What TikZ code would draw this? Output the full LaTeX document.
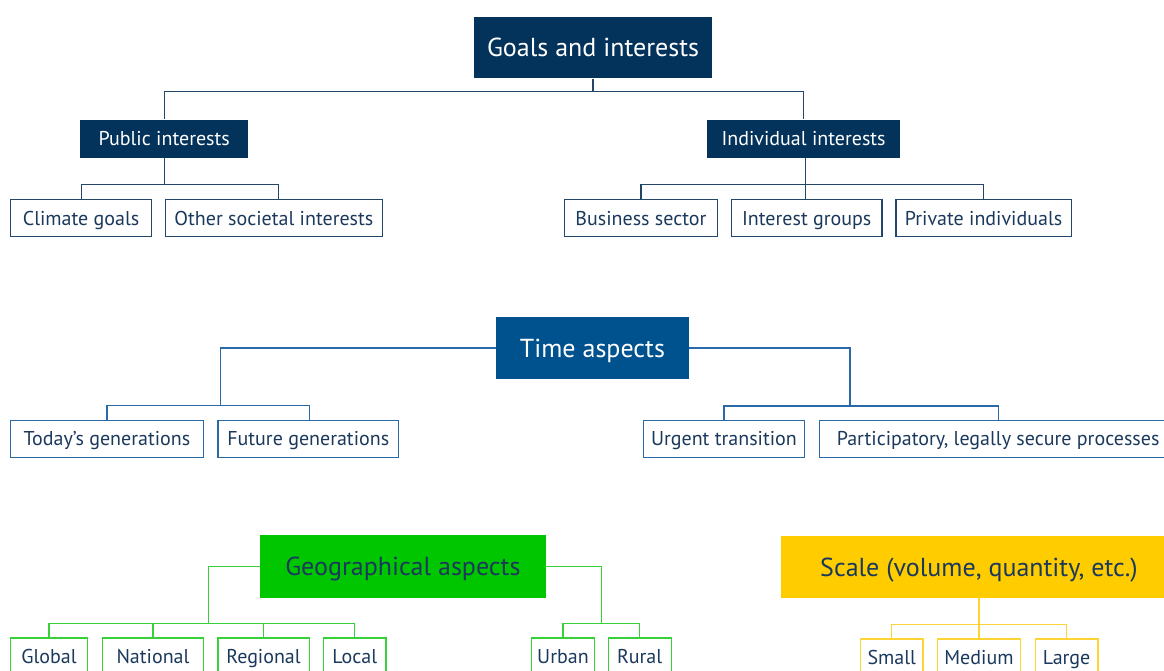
\documentclass[tikz,border=0pt]{standalone}
\usepackage{fontspec}
\setmainfont{PT Sans}
\definecolor{navyfill}{HTML}{03325A}
\definecolor{timefill}{HTML}{00528F}
\definecolor{geofill}{HTML}{00C600}
\definecolor{scalefill}{HTML}{FFCC00}
\definecolor{navyline}{HTML}{24466B}
\definecolor{blueline}{HTML}{2A69A8}
\definecolor{greenline}{HTML}{38D038}
\definecolor{yellowline}{HTML}{FFD333}
\definecolor{labelnavy}{HTML}{1B395C}
\begin{document}
\begin{tikzpicture}[x=1pt,y=-1pt,
  leaf/.style={draw, line width=1.2pt, fill=white, inner sep=0pt, anchor=north west,
    minimum height=37pt, text=labelnavy, font=\fontsize{20}{22}\selectfont,
    text height=14pt, text depth=0pt},
  sub/.style={inner sep=0pt, anchor=north west, minimum height=38pt,
    fill=navyfill, text=white, font=\fontsize{20}{22}\selectfont,
    text height=14pt, text depth=0pt},
  head/.style={inner sep=0pt, anchor=north west, font=\fontsize{26}{28}\selectfont,
    text height=18.2pt, text depth=0pt},
  link/.style={line width=1.2pt}]
\useasboundingbox (0,0) rectangle (1164,671);
\clip (0,0) rectangle (1164,671);

% ---------- Goals and interests ----------
\node[head, fill=navyfill, text=white, minimum width=237.7pt, minimum height=61.3pt]
  (goals) at (474,17) {Goals and interests};
\node[sub, minimum width=168pt] (pub) at (80,119.5) {Public interests};
\node[sub, minimum width=192.7pt] (ind) at (707,119.5) {Individual interests};
\node[leaf, draw=navyline, minimum width=141pt] (climate) at (10,199) {Climate goals};
\node[leaf, draw=navyline, minimum width=217.4pt] (other) at (164.6,199) {Other societal interests};
\node[leaf, draw=navyline, minimum width=152.7pt] (business) at (564,199) {Business sector};
\node[leaf, draw=navyline, minimum width=150.3pt] (igroups) at (731,199) {Interest groups};
\node[leaf, draw=navyline, minimum width=175.4pt] (private) at (895.3,199) {Private individuals};

\begin{scope}[link, draw=navyline]
  \draw (goals.south) -- ++(0,13.5);
  \draw (pub.north) -- ++(0,-28) -| (ind.north);
  \draw (pub.south) -- ++(0,26.5);
  \draw (climate.north) -- ++(0,-14.5) -| ([xshift=4.5pt]other.north);
  \draw ([xshift=1.7pt]ind.south) -- ([xshift=1.7pt]ind.south |- igroups.north);
  \draw (business.north) -- ++(0,-14.5) -| (private.north);
\end{scope}

% ---------- Time aspects ----------
\node[head, fill=timefill, text=white, minimum width=192.5pt, minimum height=62.3pt]
  (time) at (496,316.7) {Time aspects};
\node[leaf, draw=blueline, minimum width=192.7pt] (today) at (10,419.5) {Today’s generations};
\node[leaf, draw=blueline, minimum width=180.7pt] (future) at (217.3,419.5) {Future generations};
\node[leaf, draw=blueline, minimum width=161.3pt] (urgent) at (642.7,419.5) {Urgent transition};
\node[leaf, draw=blueline, minimum width=357pt] (particip) at (819,419.5) {Participatory, legally secure processes};

\begin{scope}[link, draw=blueline]
  \draw (time.west) -| ++(-275.7,57.7);
  \draw (today.north) -- ++(0,-13.7) -| ([xshift=1.6pt]future.north);
  \draw (time.east) -| ++(161,57.7);
  \draw (urgent.north) -- ++(0,-13.5) -| (particip.north);
\end{scope}

% ---------- Geographical aspects ----------
\node[head, fill=geofill, text=labelnavy, minimum width=285.7pt, minimum height=62.5pt]
  (geo) at (259.8,535) {Geographical aspects};
\node[leaf, draw=greenline, minimum width=77.2pt] (global) at (9.8,637.3) {Global};
\node[leaf, draw=greenline, minimum width=101.2pt] (national) at (101.8,637.3) {National};
\node[leaf, draw=greenline, minimum width=91.1pt] (regional) at (217.4,637.3) {Regional};
\node[leaf, draw=greenline, minimum width=62.3pt] (local) at (323,637.3) {Local};
\node[leaf, draw=greenline, minimum width=62.75pt] (urban) at (531,637.3) {Urban};
\node[leaf, draw=greenline, minimum width=62.9pt] (rural) at (607.6,637.3) {Rural};

\begin{scope}[link, draw=greenline]
  \draw (geo.west) -| ++(-51.3,57);
  \draw (global.north) -- ++(0,-14) -| (local.north);
  \draw (national.north) -- ++(0,-14);
  \draw (regional.north) -- ++(0,-14);
  \draw (geo.east) -| ++(55.5,57);
  \draw (urban.north) -- ++(0,-14) -| (rural.north);
\end{scope}

% ---------- Scale ----------
\node[head, fill=scalefill, text=labelnavy, minimum width=395.4pt, minimum height=62pt]
  (scale) at (781,535.7) {Scale (volume, quantity, etc.)};
\node[leaf, draw=yellowline, minimum width=62.3pt] (small) at (860,638.3) {Small};
\node[leaf, draw=yellowline, minimum width=82.7pt] (medium) at (937,638.3) {Medium};
\node[leaf, draw=yellowline, minimum width=62.6pt] (large) at (1034.7,638.3) {Large};

\begin{scope}[link, draw=yellowline]
  \draw (scale.south) -- ++(0,26.6);
  \draw (small.north) -- ++(0,-14) -| (large.north);
  \draw (medium.north) -- ++(0,-14);
\end{scope}
\end{tikzpicture}
\end{document}
